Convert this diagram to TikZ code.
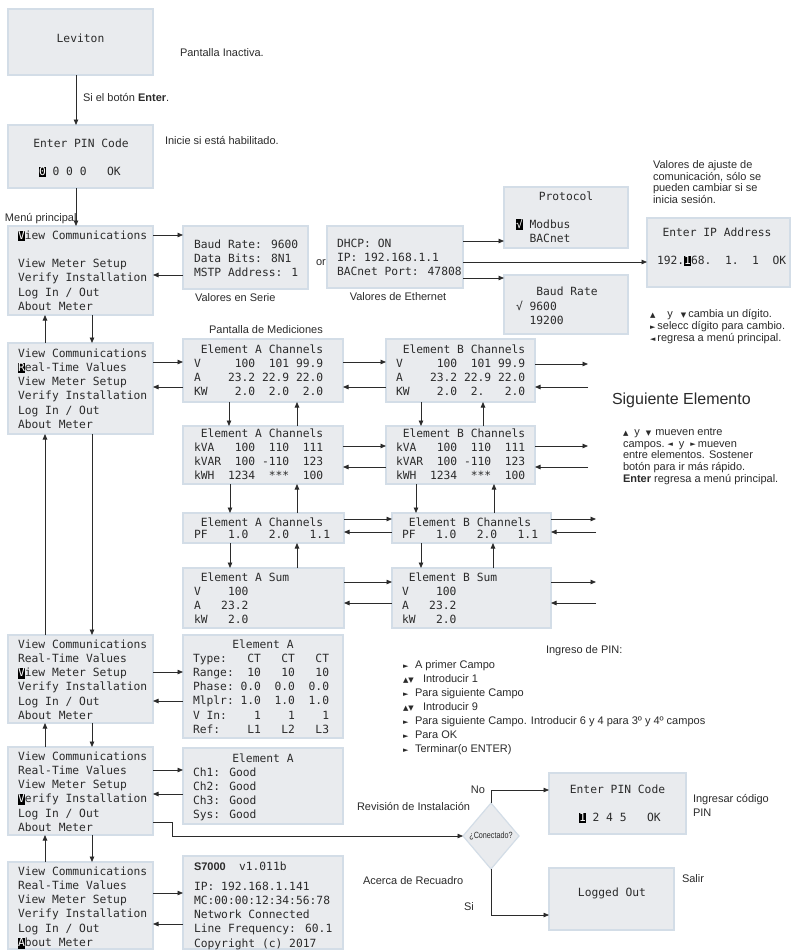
\documentclass[tikz,border=0pt]{standalone}
\usepackage{fontspec}
\usepackage{graphicx}
\setmainfont{Liberation Sans}
\newfontfamily\monof{DejaVu Sans Mono}
\newfontfamily\symf{DejaVu Sans}
\usetikzlibrary{arrows.meta,shapes.geometric}
\definecolor{boxfill}{HTML}{E9EBEE}
\definecolor{boxline}{HTML}{D3DDE7}
\definecolor{ink}{HTML}{2B2B2B}
\newcommand\hl[1]{{\setlength{\fboxsep}{0pt}\colorbox{black}{\rule[-2pt]{0pt}{10.5pt}\textcolor{white}{#1}}}}
\newcommand\tup{\raisebox{0.5pt}{\symf\fontsize{7}{7}\selectfont ▲}}
\newcommand\tdn{\raisebox{0.5pt}{\symf\fontsize{7}{7}\selectfont ▼}}
\newcommand\trt{\raisebox{0.5pt}{\symf\fontsize{7}{7}\selectfont ►}}
\newcommand\tlt{\raisebox{0.5pt}{\symf\fontsize{7}{7}\selectfont ◄}}
\newcommand\mklines[6]{\foreach \myline [count=\i from 0] in {#6} {\node[#2,anchor=base west] (#1\i) at (#3,{#4+#5*\i}) {\myline};}}
\newcommand\mkbox[5]{\node[scrbox,minimum width={#4-#2},minimum height={#5-#3}] (#1) at ({(#2+#4)/2},{(#3+#5)/2}) {};}
\tikzset{
  scrbox/.style={rectangle,fill=boxfill,draw=boxline,line width=1.2pt,inner sep=0pt,outer sep=0pt},
  mono/.style={font=\monof\fontsize{11.3}{14}\selectfont,text=ink,inner sep=0pt,outer sep=0pt},
  sans/.style={font=\fontsize{11}{12}\selectfont,text=ink,inner sep=0pt,outer sep=0pt},
  arr/.style={draw=ink,line width=0.8pt,-{Triangle[length=5.5pt,width=4.5pt]}},
  dia/.style={diamond,aspect=0.85,fill=boxfill,draw=boxline,line width=1.2pt,minimum width=56pt,minimum height=66pt,inner sep=0pt,outer sep=0pt}
}
\begin{document}
\begin{tikzpicture}[x=1pt,y=-1pt]
\fill[white] (0,0) rectangle (793,951);
\useasboundingbox (0,0) rectangle (793,951);
% ---------- boxes
\mkbox{lev}{8}{9}{153}{75}
\mkbox{pinA}{8}{125}{153}{188}
\mkbox{m1}{8}{226}{153}{315}
\mkbox{ser}{183}{226}{308}{289}
\mkbox{eth}{327}{226}{463}{288}
\mkbox{proto}{504}{187}{628}{248}
\mkbox{baud}{504}{275}{628}{334}
\mkbox{ip}{647}{218}{790}{287}
\mkbox{m2}{8}{343}{153}{434}
\mkbox{a1}{183}{339}{343}{402}
\mkbox{b1}{386}{339}{535}{402}
\mkbox{a2}{183}{426}{343}{484}
\mkbox{b2}{386}{426}{535}{484}
\mkbox{a3}{183}{513}{344}{543}
\mkbox{b3}{392}{513}{551}{543}
\mkbox{a4}{183}{568}{344}{628}
\mkbox{b4}{392}{568}{551}{628}
\mkbox{m3}{8}{635}{153}{723}
\mkbox{setup}{183}{635}{343}{738}
\mkbox{m4}{8}{747}{153}{835}
\mkbox{ver}{183}{748}{343}{824}
\mkbox{m5}{8}{862}{153}{949}
\mkbox{about}{183}{856}{343}{949}
\mkbox{pinB}{549}{773}{686}{834}
\mkbox{lo}{549}{868}{674}{930}
\node[dia] (dia) at (491,836) {\fontsize{9}{10}\selectfont\color{ink}\scalebox{0.8}[1]{¿Conectado?}};
% ---------- screen texts
\node[mono,anchor=base] (levt) at (80.5,42) {Leviton};
\node[mono,anchor=base] (pinAt) at (81,147) {Enter PIN Code};
\node[mono,anchor=base west] (pinAv) at (39,175) {\hl{0}~0~0~0~~~OK};
\mklines{m1t}{mono}{18}{239}{14.3}{\hl{V}iew Communications,{},View Meter Setup,Verify Installation,Log In / Out,About Meter}
\mklines{m2t}{mono}{18}{357}{14.3}{View Communications,\hl{R}eal-Time Values,View Meter Setup,Verify Installation,Log In / Out,About Meter}
\mklines{m3t}{mono}{18}{648}{14.3}{View Communications,Real-Time Values,\hl{V}iew Meter Setup,Verify Installation,Log In / Out,About Meter}
\mklines{m4t}{mono}{18}{760}{14.3}{View Communications,Real-Time Values,View Meter Setup,\hl{V}erify Installation,Log In / Out,About Meter}
\mklines{m5t}{mono}{18}{875}{14.3}{View Communications,Real-Time Values,View Meter Setup,Verify Installation,Log In / Out,\hl{A}bout Meter}
\mklines{sert}{mono}{194}{248}{14.4}{Baud Rate: 9600,Data Bits: 8N1,MSTP Address: 1}
\mklines{etht}{mono}{337}{247}{14.4}{DHCP: ON,IP: 192.168.1.1,BACnet Port: 47808}
\node[mono,anchor=base] (protot) at (566,200) {Protocol};
\mklines{protol}{mono}{516}{228}{14.5}{\hl{√}~Modbus,~~BACnet}
\node[mono,anchor=base] (baudt) at (567,295) {Baud Rate};
\mklines{baudl}{mono}{516}{310}{14.3}{√~9600,~~19200}
\node[mono,anchor=base] (ipt) at (717,236) {Enter IP Address};
\node[mono,anchor=base west] (ipv) at (657,264) {192.\hl{1}68.~~1.~~1~~OK};
\mklines{a1t}{mono}{194}{353}{14.3}{~Element A Channels,V~~~~~100~~101~99.9,A~~~~23.2~22.9~22.0,KW~~~~2.0~~2.0~~2.0}
\mklines{b1t}{mono}{396}{353}{14.3}{~Element B Channels,V~~~~~100~~101~99.9,A~~~~23.2~22.9~22.0,KW~~~~2.0~~2.~~~2.0}
\mklines{a2t}{mono}{194}{437}{14.3}{~Element A Channels,kVA~~~100~~110~~111,kVAR~~100~-110~~123,kWH~~1234~~***~~100}
\mklines{b2t}{mono}{396}{437}{14.3}{~Element B Channels,kVA~~~100~~110~~111,kVAR~~100~-110~~123,kWH~~1234~~***~~100}
\mklines{a3t}{mono}{194}{526}{12.8}{~Element A Channels,PF~~~1.0~~~2.0~~~1.1}
\mklines{b3t}{mono}{402}{526}{12.8}{~Element B Channels,PF~~~1.0~~~2.0~~~1.1}
\mklines{a4t}{mono}{194}{581}{14}{~Element A Sum,V~~~~100,A~~~23.2,kW~~~2.0}
\mklines{b4t}{mono}{402}{581}{14}{~Element B Sum,V~~~~100,A~~~23.2,kW~~~2.0}
\node[mono,anchor=base] (setupt) at (263,648) {Element A};
\mklines{setupl}{mono}{193}{662.2}{14.2}{Type:~~~CT~~~CT~~~CT,Range:~~10~~~10~~~10,Phase:~0.0~~0.0~~0.0,Mlplr:~1.0~~1.0~~1.0,V~In:~~~~1~~~~1~~~~1,Ref:~~~~L1~~~L2~~~L3}
\node[mono,anchor=base] (vert) at (263,762) {Element A};
\mklines{verl}{mono}{193}{776}{14.3}{Ch1: Good,Ch2: Good,Ch3: Good,Sys: Good}
\node[sans,anchor=base west,font=\fontsize{11}{12}\selectfont\bfseries] (aboutn) at (194,870) {S7000};
\node[mono,anchor=base west] (aboutv) at (239,870) {v1.011b};
\mklines{aboutl}{mono}{194}{890}{14.3}{IP: 192.168.1.141,MC:00:00:12:34:56:78,Network Connected,Line Frequency: 60.1,Copyright (c) 2017}
\node[mono,anchor=base] (pinBt) at (617.5,793) {Enter PIN Code};
\node[mono,anchor=base west] (pinBv) at (579,821) {\hl{1}~2~4~5~~~OK};
\node[mono,anchor=base] (lot) at (612,896) {Logged Out};
% ---------- annotations
\node[sans,anchor=base west] (n1) at (180,56.5) {Pantalla Inactiva.};
\node[sans,anchor=base west] (n2) at (83,101) {Si el botón \textbf{Enter}.};
\node[sans,anchor=base west] (n3) at (165,144.5) {Inicie si está habilitado.};
\node[sans,anchor=base west] (n4) at (5,221.5) {Menú principal};
\node[sans,anchor=base west] (n5) at (316,265.5) {or};
\node[sans,anchor=base west] (n6) at (195,301.5) {Valores en Serie};
\node[sans,anchor=base] (n7) at (398,300.5) {Valores de Ethernet};
\mklines{n8}{sans}{653}{168.5}{11.7}{Valores de ajuste de,{comunicación, sólo se},pueden cambiar si se,inicia sesión.}
\mklines{n9}{sans}{650}{317.5}{12}{\tup\hspace{12pt}y\hspace{8pt}\tdn\hspace{2pt}cambia un dígito.,\trt\hspace{2pt}selecc dígito para cambio.,\tlt\hspace{2pt}regresa a menú principal.}
\node[sans,anchor=base] (n10) at (266,333.5) {Pantalla de Mediciones};
\node[sans,anchor=base west,font=\fontsize{16}{19}\selectfont] (n11) at (612,404) {Siguiente Elemento};
\mklines{n12}{sans}{623}{435.5}{11.7}{\tup\hspace{6pt}y\hspace{6pt}\tdn\hspace{4pt}mueven entre,campos.\hspace{3pt}\tlt\hspace{6pt}y\hspace{6pt}\trt\hspace{2pt}mueven,entre elementos. Sostener,botón para ir más rápido.,\textbf{Enter} regresa a menú principal.}
\node[sans,anchor=base west] (n13) at (546,653.5) {Ingreso de PIN:};
\mklines{n14}{sans}{403}{668.5}{14}{\makebox[12pt][l]{\trt}A primer Campo,\makebox[20pt][l]{\tup\tdn}Introducir 1,\makebox[12pt][l]{\trt}Para siguiente Campo,\makebox[20pt][l]{\tup\tdn}Introducir 9,\makebox[12pt][l]{\trt}Para siguiente Campo. Introducir 6 y 4 para 3º y 4º campos,\makebox[12pt][l]{\trt}Para OK,\makebox[12pt][l]{\trt}Terminar(o ENTER)}
\node[sans,anchor=base west] (n15) at (357,810.5) {Revisión de Instalación};
\node[sans,anchor=base west] (n16) at (363,884.5) {Acerca de Recuadro};
\node[sans,anchor=base east] (n17) at (485,793.5) {No};
\node[sans,anchor=base west] (n18) at (464,910.5) {Si};
\mklines{n19}{sans}{693}{802.5}{14}{Ingresar código,PIN}
\node[sans,anchor=base west] (n20) at (682,882.5) {Salir};
% ---------- connectors: main column
\draw[arr] ([xshift=-4.5pt]lev.south) -- ([xshift=-4.5pt]pinA.north);
\draw[arr] ([xshift=-4.5pt]pinA.south) -- ([xshift=-4.5pt]m1.north);
\foreach \u/\l in {m1/m2,m2/m3,m3/m4,m4/m5}{
  \draw[arr] ([xshift=11.5pt]\u.south) -- ([xshift=11.5pt]\l.north);
  \draw[arr] ([xshift=-35.5pt]\l.north) -- ([xshift=-35.5pt]\u.south);
}
% communications
\draw[arr] (m1.east |- 0,235) -- (ser.west |- 0,235);
\draw[arr] (ser.west |- 0,275) -- (m1.east |- 0,275);
\draw[arr] (eth.east |- 0,241) -- (proto.west |- 0,241);
\draw[arr] (eth.east |- 0,262) -- (ip.west |- 0,262);
\draw[arr] (eth.east |- 0,278) -- (baud.west |- 0,278);
% real-time values grid
\draw[arr] (m2.east |- 0,362) -- (a1.west |- 0,362);
\draw[arr] (a1.west |- 0,387) -- (m2.east |- 0,387);
\draw[arr] (a1.east |- 0,362) -- (b1.west |- 0,362);
\draw[arr] (b1.west |- 0,387) -- (a1.east |- 0,387);
\draw[arr] (a2.east |- 0,446) -- (b2.west |- 0,446);
\draw[arr] (b2.west |- 0,467) -- (a2.east |- 0,467);
\draw[arr] (a3.east |- 0,519) -- (b3.west |- 0,519);
\draw[arr] (b3.west |- 0,532) -- (a3.east |- 0,532);
\draw[arr] (a4.east |- 0,582) -- (b4.west |- 0,582);
\draw[arr] (b4.west |- 0,603) -- (a4.east |- 0,603);
\coordinate (r1o) at (588,364);
\coordinate (r1i) at (588,387);
\coordinate (r2o) at (588,446);
\coordinate (r2i) at (588,467);
\coordinate (r3o) at (596,519);
\coordinate (r3i) at (596,532);
\coordinate (r4o) at (596,582);
\coordinate (r4i) at (596,603);
\draw[arr] (b1.east |- r1o) -- (r1o);
\draw[arr] (r1i) -- (b1.east |- r1i);
\draw[arr] (b2.east |- r2o) -- (r2o);
\draw[arr] (r2i) -- (b2.east |- r2i);
\draw[arr] (b3.east |- r3o) -- (r3o);
\draw[arr] (r3i) -- (b3.east |- r3i);
\draw[arr] (b4.east |- r4o) -- (r4o);
\draw[arr] (r4i) -- (b4.east |- r4i);
\draw[arr] (a1.south -| 229,0) -- (a2.north -| 229,0);
\draw[arr] (a2.north -| 297,0) -- (a1.south -| 297,0);
\draw[arr] (a2.south -| 230,0) -- (a3.north -| 230,0);
\draw[arr] (a3.north -| 297,0) -- (a2.south -| 297,0);
\draw[arr] (a3.south -| 230,0) -- (a4.north -| 230,0);
\draw[arr] (a4.north -| 297,0) -- (a3.south -| 297,0);
\draw[arr] (b1.south -| 421,0) -- (b2.north -| 421,0);
\draw[arr] (b2.north -| 483,0) -- (b1.south -| 483,0);
\draw[arr] (b2.south -| 416,0) -- (b3.north -| 416,0);
\draw[arr] (b3.north -| 494,0) -- (b2.south -| 494,0);
\draw[arr] (b3.south -| 421,0) -- (b4.north -| 421,0);
\draw[arr] (b4.north -| 493,0) -- (b3.south -| 493,0);
% setup / verify / about
\draw[arr] (m3.east |- 0,672) -- (setup.west |- 0,672);
\draw[arr] (setup.west |- 0,701) -- (m3.east |- 0,701);
\draw[arr] (m4.east |- 0,770) -- (ver.west |- 0,770);
\draw[arr] (ver.west |- 0,794) -- (m4.east |- 0,794);
\draw[arr] (m5.east |- 0,893) -- (about.west |- 0,893);
\draw[arr] (about.west |- 0,924) -- (m5.east |- 0,924);
% log in / out
\draw[arr] (m4.east |- 0,822) -- (172,822) |- (dia.west);
\draw[arr] (dia.north) |- (pinB.west |- 0,790);
\draw[arr] (dia.south) |- (lo.west |- 0,915);
\end{tikzpicture}
\end{document}
